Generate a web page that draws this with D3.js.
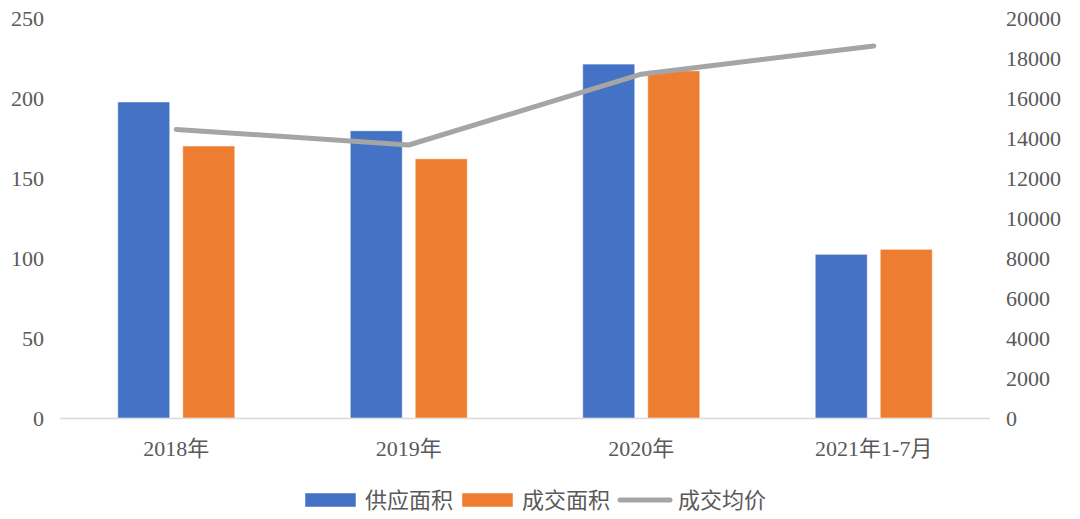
<!DOCTYPE html>
<html><head><meta charset="utf-8">
<script src="https://cdn.jsdelivr.net/npm/d3@7"></script>
<style>
html,body{margin:0;padding:0;background:#fff;}
svg{display:block;}
text{font-family:"Liberation Serif","Noto Sans CJK SC",serif;fill:#595959;}
.leg text{font-family:"Noto Sans CJK SC","Noto Sans",sans-serif;}
</style></head>
<body>
<svg id="c" width="1080" height="519"></svg>
<script>
const categories = ["2018年","2019年","2020年","2021年1-7月"];
const supplyArea = [197.5, 179.5, 221.2, 102.3];
const dealArea = [170, 162, 217, 105.4];
const avgPrice = [14430, 13650, 17190, 18600];
const leftTicks = [0,50,100,150,200,250];
const rightTicks = [0,2000,4000,6000,8000,10000,12000,14000,16000,18000,20000];
const seriesNames = ["供应面积","成交面积","成交均价"];
const colors = ["#4472C4","#ED7D31","#A5A5A5"];

const svg = d3.select("#c");
const x0 = 60, x1 = 990, yTop = 18, yBot = 418;
const x = d3.scaleBand().domain(categories).range([x0,x1]);
const yL = d3.scaleLinear().domain([0,250]).range([yBot,yTop]);
const yR = d3.scaleLinear().domain([0,20000]).range([yBot,yTop]);
const barW = 52, gap = 13;

// axis line
svg.append("line").attr("x1",x0).attr("x2",x1).attr("y1",yBot+0.5).attr("y2",yBot+0.5)
  .attr("stroke","#D9D9D9").attr("stroke-width",1.5);

// left ticks
const lAx = d3.axisLeft(yL).tickValues(leftTicks).tickSize(0).tickPadding(0);
const gL = svg.append("g").attr("transform","translate(44,0)").call(lAx);
gL.select(".domain").remove();
gL.selectAll("text").attr("font-size",22).attr("font-family","Liberation Serif").attr("fill","#595959");

const rAx = d3.axisRight(yR).tickValues(rightTicks).tickSize(0).tickPadding(0).tickFormat(d3.format("d"));
const gR = svg.append("g").attr("transform","translate(1006,0)").call(rAx);
gR.select(".domain").remove();
gR.selectAll("text").attr("font-size",22).attr("font-family","Liberation Serif").attr("fill","#595959");

// bars
const g = svg.append("g");
categories.forEach((c,i)=>{
  const cx = x(c) + x.bandwidth()/2;
  g.append("rect").attr("x",cx - gap/2 - barW).attr("y",yL(supplyArea[i]))
    .attr("width",barW).attr("height",yBot - yL(supplyArea[i]))
    .attr("fill",colors[0]).attr("stroke","#fff").attr("stroke-opacity",0.5).attr("stroke-width",1);
  g.append("rect").attr("x",cx + gap/2).attr("y",yL(dealArea[i]))
    .attr("width",barW).attr("height",yBot - yL(dealArea[i]))
    .attr("fill",colors[1]).attr("stroke","#fff").attr("stroke-opacity",0.5).attr("stroke-width",1);
});

// line
const line = d3.line().x((d,i)=>x(categories[i])+x.bandwidth()/2).y(d=>yR(d));
svg.append("path").datum(avgPrice).attr("d",line).attr("fill","none")
  .attr("stroke",colors[2]).attr("stroke-width",5).attr("stroke-linecap","round").attr("stroke-linejoin","round");

// category labels
svg.append("g").selectAll("text").data(categories).join("text")
  .attr("x",d=>x(d)+x.bandwidth()/2).attr("y",448).attr("dy","0.35em")
  .attr("text-anchor","middle").attr("font-size",22).text(d=>d);

// legend
const leg = svg.append("g").attr("class","leg");
const legItems = [
  {sx:305, tx:365, type:"rect"},
  {sx:462, tx:522, type:"rect"},
  {sx:618, tx:678, type:"line"}
];
legItems.forEach((it,i)=>{
  if(it.type==="rect"){
    leg.append("rect").attr("x",it.sx).attr("y",493).attr("width",51).attr("height",14)
      .attr("fill",colors[i]).attr("stroke","#fff").attr("stroke-opacity",0.5);
  } else {
    leg.append("line").attr("x1",it.sx+2).attr("x2",it.sx+52).attr("y1",500).attr("y2",500)
      .attr("stroke",colors[i]).attr("stroke-width",5).attr("stroke-linecap","round");
  }
  leg.append("text").attr("x",it.tx).attr("y",500).attr("dy","0.35em")
    .attr("font-size",22).text(seriesNames[i]);
});
</script>
</body></html>
